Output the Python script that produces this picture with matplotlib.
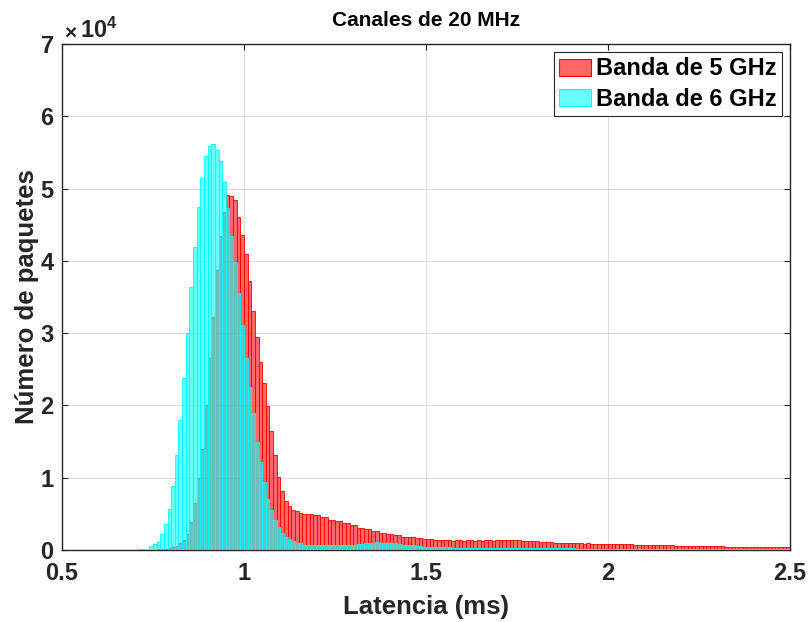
import matplotlib.pyplot as plt
import numpy as np
from matplotlib.patches import Patch

plt.rcParams['font.family'] = ['Liberation Sans', 'DejaVu Sans']
plt.rcParams['font.weight'] = 'bold'
plt.rcParams['mathtext.fontset'] = 'custom'
plt.rcParams['mathtext.rm'] = 'Liberation Sans'
plt.rcParams['mathtext.bf'] = 'Liberation Sans:bold'

# Bordes de los bins (ms), ancho 0.01 ms
bin_start = 0.50
bin_width = 0.01

# Banda de 5 GHz (x1e4 paquetes), un valor por bin desde 0.50 ms
banda5 = [
    0, 0, 0, 0, 0, 0, 0, 0, 0, 0,                                  # 0.50-0.59
    0, 0, 0, 0, 0, 0, 0, 0, 0.001, 0.001,                          # 0.60-0.69
    0.001, 0.002, 0.002, 0.003, 0.004, 0.005, 0.007, 0.01, 0.015, 0.025,  # 0.70-0.79
    0.04, 0.06, 0.10, 0.14, 0.22, 0.39, 0.65, 1.00, 1.40, 2.00,    # 0.80-0.89
    2.66, 3.23, 3.88, 4.34, 4.68, 4.91, 4.90, 4.84, 4.60, 4.36,    # 0.90-0.99
    4.09, 3.72, 3.30, 2.94, 2.60, 2.31, 1.99, 1.64, 1.31, 1.01,    # 1.00-1.09
    0.82, 0.68, 0.61, 0.56, 0.54, 0.51, 0.50, 0.50, 0.50, 0.48,    # 1.10-1.19
    0.48, 0.45, 0.45, 0.42, 0.42, 0.405, 0.40, 0.37, 0.37, 0.35,   # 1.20-1.29
    0.35, 0.31, 0.31, 0.29, 0.29, 0.26, 0.26, 0.24, 0.24, 0.22,    # 1.30-1.39
    0.22, 0.21, 0.21, 0.18, 0.18, 0.175, 0.175, 0.16, 0.16, 0.15,  # 1.40-1.49
    0.15, 0.15, 0.14, 0.14, 0.14, 0.135, 0.135, 0.13, 0.135, 0.135,  # 1.50-1.59
    0.13, 0.135, 0.135, 0.13, 0.135, 0.13, 0.135, 0.135, 0.13, 0.135,  # 1.60-1.69
    0.135, 0.14, 0.14, 0.14, 0.135, 0.14, 0.13, 0.13, 0.125, 0.13,  # 1.70-1.79
    0.12, 0.115, 0.11, 0.105, 0.105, 0.10, 0.10, 0.095, 0.09, 0.09,  # 1.80-1.89
    0.09, 0.09, 0.09, 0.088, 0.09, 0.087, 0.088, 0.085, 0.086, 0.085,  # 1.90-1.99
    0.08, 0.08, 0.08, 0.078, 0.08, 0.077, 0.078, 0.075, 0.076, 0.075,  # 2.00-2.09
    0.074, 0.072, 0.07, 0.068, 0.066, 0.066, 0.064, 0.063, 0.062, 0.062,  # 2.10-2.19
    0.06, 0.06, 0.059, 0.058, 0.058, 0.057, 0.056, 0.056, 0.055, 0.054,  # 2.20-2.29
    0.052, 0.05, 0.048, 0.047, 0.046, 0.045, 0.044, 0.043, 0.043, 0.042,  # 2.30-2.39
    0.041, 0.04, 0.04, 0.039, 0.038, 0.038, 0.037, 0.036, 0.036, 0.035,  # 2.40-2.49
]

# Banda de 6 GHz (x1e4 paquetes)
banda6 = [
    0, 0, 0, 0, 0, 0, 0.002, 0.002, 0.002, 0.002,                  # 0.50-0.59
    0.002, 0.002, 0.002, 0.002, 0.002, 0.002, 0.003, 0.003, 0.004, 0.004,  # 0.60-0.69
    0.005, 0.007, 0.01, 0.02, 0.05, 0.08, 0.115, 0.22, 0.36, 0.57,  # 0.70-0.79
    0.88, 1.31, 1.80, 2.38, 3.00, 3.64, 4.19, 4.74, 5.14, 5.45,    # 0.80-0.89
    5.59, 5.62, 5.53, 5.38, 5.09, 4.73, 4.35, 3.98, 3.55, 3.11,    # 0.90-0.99
    2.66, 2.26, 1.90, 1.50, 1.22, 0.94, 0.70, 0.55, 0.42, 0.32,    # 1.00-1.09
    0.24, 0.18, 0.15, 0.125, 0.10, 0.09, 0.075, 0.07, 0.07, 0.065,  # 1.10-1.19
    0.065, 0.065, 0.065, 0.065, 0.065, 0.07, 0.065, 0.07, 0.07, 0.07,  # 1.20-1.29
    0.075, 0.08, 0.085, 0.09, 0.10, 0.10, 0.105, 0.10, 0.10, 0.10,  # 1.30-1.39
    0.095, 0.09, 0.085, 0.075, 0.07, 0.07, 0.065, 0.06, 0.05, 0.045,  # 1.40-1.49
    0.04, 0.04, 0.04, 0.038, 0.036, 0.035, 0.035, 0.034, 0.034, 0.033,  # 1.50-1.59
    0.033, 0.032, 0.032, 0.032, 0.031, 0.031, 0.03, 0.03, 0.03, 0.03,  # 1.60-1.69
    0.03, 0.03, 0.03, 0.03, 0.029, 0.028, 0.027, 0.026, 0.025, 0.025,  # 1.70-1.79
    0.025, 0.024, 0.024, 0.023, 0.023, 0.022, 0.022, 0.022, 0.021, 0.021,  # 1.80-1.89
    0.021, 0.02, 0.02, 0.02, 0.02, 0.02, 0.019, 0.019, 0.019, 0.019,  # 1.90-1.99
    0.018, 0.018, 0.018, 0.018, 0.018, 0.017, 0.017, 0.017, 0.017, 0.017,  # 2.00-2.09
    0.017, 0.016, 0.016, 0.016, 0.016, 0.016, 0.016, 0.016, 0.015, 0.015,  # 2.10-2.19
    0.015, 0.015, 0.015, 0.015, 0.015, 0.015, 0.014, 0.014, 0.014, 0.014,  # 2.20-2.29
    0.014, 0.014, 0.014, 0.014, 0.013, 0.013, 0.013, 0.013, 0.013, 0.013,  # 2.30-2.39
    0.013, 0.013, 0.012, 0.012, 0.012, 0.012, 0.012, 0.012, 0.012, 0.012,  # 2.40-2.49
]

x_ticks = [0.5, 1, 1.5, 2, 2.5]
x_labels = ['0.5', '1', '1.5', '2', '2.5']
y_ticks = [0, 1, 2, 3, 4, 5, 6, 7]

counts5 = np.array(banda5) * 1e4
counts6 = np.array(banda6) * 1e4
left = bin_start + bin_width * np.arange(len(counts5))

fig = plt.figure(figsize=(8.09, 6.22), dpi=100)
ax = fig.add_axes([62 / 809, 72 / 622, 728 / 809, 506 / 622])

ax.bar(left, counts5, width=bin_width, align='edge',
       facecolor=(1, 0, 0, 0.6), edgecolor=(1, 0, 0, 1), linewidth=0.6, zorder=2)
ax.bar(left, counts6, width=bin_width, align='edge',
       facecolor=(0, 1, 1, 0.6), edgecolor=(0, 1, 1, 1), linewidth=0.6, zorder=3)

ax.set_xlim(0.5, 2.5)
ax.set_ylim(0, 7e4)
ax.set_xticks(x_ticks)
ax.set_xticklabels(x_labels)
ax.set_yticks([t * 1e4 for t in y_ticks])
ax.set_yticklabels([str(t) for t in y_ticks])

ax.grid(True, color='#dcdcdc', linewidth=0.8, zorder=0)
ax.set_axisbelow(True)
ax.tick_params(direction='in', length=4, width=0.8, labelsize=17,
               top=True, right=True, colors='#262626')
ax.tick_params(axis='x', pad=9)
ax.tick_params(axis='y', pad=6)
for lab in ax.get_xticklabels() + ax.get_yticklabels():
    lab.set_fontweight('bold')
for s in ax.spines.values():
    s.set_color('#262626')
    s.set_linewidth(1.0)

ax.set_title('Canales de 20 MHz', fontsize=15, fontweight='bold', pad=13)
ax.set_xlabel('Latencia (ms)', fontsize=18.5, fontweight='bold', labelpad=7,
              color='#262626')
ax.set_ylabel('Número de paquetes', fontsize=18.5, fontweight='bold', labelpad=1,
              color='#262626')

fig.text(64 / 809, 1 - 38 / 622, r'$\times$', fontsize=15, color='#262626')
fig.text(80 / 809, 1 - 38 / 622, r'$\mathbf{10^{4}}$', fontsize=17, color='#262626')

handles = [Patch(facecolor=(1, 0, 0, 0.6), edgecolor='red', linewidth=0.8),
           Patch(facecolor=(0, 1, 1, 0.6), edgecolor='cyan', linewidth=0.8)]
leg = ax.legend(handles, ['Banda de 5 GHz', 'Banda de 6 GHz'], loc='upper right',
                prop={'size': 17, 'weight': 'bold'}, fancybox=False, framealpha=1,
                edgecolor='#262626', handlelength=1.36, handleheight=0.72,
                handletextpad=0.2, labelspacing=0.3, borderpad=0.22,
                borderaxespad=0.35)
leg.get_frame().set_linewidth(0.8)

fig.savefig('out.png', dpi=100)
